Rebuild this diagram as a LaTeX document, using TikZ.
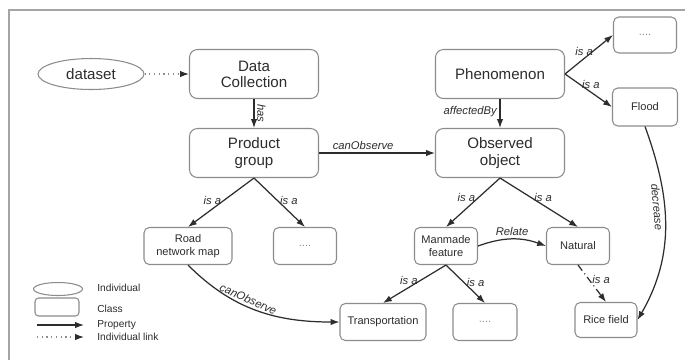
\documentclass[tikz,border=0pt]{standalone}
\usepackage{fontspec}
\setmainfont{Liberation Sans}
\usetikzlibrary{shapes.geometric,arrows.meta}

\definecolor{boxgray}{RGB}{140,140,140}
\definecolor{inkgray}{RGB}{45,45,45}
\definecolor{framegray}{RGB}{165,165,165}

\begin{document}
\begin{tikzpicture}[x=0.02cm, y=0.02cm,
        cls/.style={draw=boxgray, line width=0.6pt, fill=white, rounded corners=4pt,
            align=center, text=inkgray, inner sep=1pt},
        bigcls/.style={cls, rounded corners=4.5pt, minimum width=2.58cm, minimum height=0.98cm,
            font=\fontsize{8.6}{9.2}\selectfont},
        smallcls/.style={cls, rounded corners=3pt, minimum width=1.26cm,
            minimum height=0.74cm, font=\fontsize{6.3}{7.4}\selectfont},
        morecls/.style={smallcls, text=boxgray},
        indiv/.style={ellipse, draw=boxgray, line width=0.6pt, fill=white,
            inner sep=0pt, text=inkgray},
        prop/.style={draw=inkgray, line width=0.7pt, -{Latex[length=5pt,width=3.6pt]}},
        ilink/.style={draw=boxgray, line width=0.7pt, dotted,
            -{Latex[length=5pt,width=3.6pt,color=inkgray]}},
        lbl/.style={font=\fontsize{6.4}{7.5}\selectfont\itshape, text=inkgray, inner sep=1.5pt},
        legtxt/.style={font=\fontsize{5.8}{7}\selectfont, text=inkgray, anchor=west, inner sep=0pt}]
    \useasboundingbox (0,0) rectangle (685,-360);
    \fill[white] (0,0) rectangle (685,-360);
    % frame of the figure
    \draw[framegray, line width=0.6pt] (9,-360) -- (9,-10) -- (685,-10);

    % classes and the individual
    \node[indiv, minimum width=2.12cm, minimum height=0.62cm,
        font=\fontsize{8.6}{9.2}\selectfont] (dataset) at (91,-74) {dataset};
    \node[bigcls] (collection) at (254,-74) {Data\\Collection};
    \node[bigcls] (product) at (254,-153) {Product\\group};
    \node[bigcls] (phenomenon) at (500,-74) {Phenomenon};
    \node[bigcls] (observed) at (500,-153) {Observed\\object};
    \node[morecls, minimum height=0.72cm] (phenother) at (645,-35) {....};
    \node[smallcls, minimum width=1.3cm, minimum height=0.76cm] (flood) at (645,-107) {Flood};
    \node[smallcls, minimum width=1.76cm] (roadmap) at (188,-246) {Road\\network map};
    \node[morecls] (productother) at (305,-246) {....};
    \node[smallcls] (manmade) at (446,-246) {Manmade\\feature};
    \node[smallcls] (natural) at (578,-246) {Natural};
    \node[smallcls, minimum width=1.72cm] (transport) at (383,-322) {Transportation};
    \node[morecls, minimum width=1.28cm] (manmadeother) at (485,-322) {....};
    \node[smallcls, minimum width=1.24cm, minimum height=0.7cm] (ricefield) at (606,-320) {Rice field};

    % properties
    \draw[ilink] (dataset) -- (collection);
    \draw[prop] (collection) -- node[lbl, sloped, above] {has} (product);
    \draw[prop] (phenomenon) -- node[lbl, left, pos=0.45] {affectedBy} (observed);
    \draw[prop] (product) -- node[lbl, above, pos=0.38] {canObserve} (observed);
    \draw[prop] (phenomenon.east) -- node[lbl, above, pos=0.4] {is a} (phenother.west);
    \draw[prop] (phenomenon.east) -- node[lbl, above, pos=0.55] {is a} (flood.west);
    \draw[prop] (product.south) -- node[lbl, left, pos=0.45] {is a} (roadmap.north);
    \draw[prop] (product.south) -- node[lbl, right, pos=0.45] {is a} (productother.north);
    \draw[prop] (observed.south) -- node[lbl, left, pos=0.4] {is a} (manmade.north);
    \draw[prop] (observed.south) -- node[lbl, right, pos=0.4] {is a} (natural.north);
    \draw[prop] (manmade.south) -- node[lbl, left, pos=0.4] {is a} (transport.north);
    \draw[prop] (manmade.south) -- node[lbl, right, pos=0.45] {is a} (manmadeother.north);
    \draw[prop, dash pattern=on 4pt off 2pt on 0.6pt off 2pt]
        (natural.south) -- node[lbl, right, pos=0.4] {is a} (ricefield.north);
    \draw[prop] (manmade.east) to[out=20, in=160] node[lbl, above] {Relate} (natural.west);
    \draw[prop] (roadmap.south) to[out=-45, in=180]
        node[lbl, sloped, above, pos=0.42] {canObserve} (transport.west);
    \draw[prop] (flood.south) to[out=-70, in=60]
        node[lbl, sloped, below, pos=0.4] {decrease} (ricefield.east);

    % legend
    \node[indiv, minimum width=0.98cm, minimum height=0.26cm] (legindiv) at (58,-289) {};
    \node[legtxt] (legindivtxt) at (97,-288) {Individual};
    \node[cls, rounded corners=2pt, minimum width=0.88cm, minimum height=0.36cm] (legclass) at (57,-307) {};
    \node[legtxt] (legclasstxt) at (97,-309) {Class};
    \coordinate (legpropa) at (37,-325);
    \coordinate (legpropb) at (84,-325);
    \draw[prop] (legpropa) -- (legpropb);
    \node[legtxt] (legproptxt) at (97,-325) {Property};
    \coordinate (leglinka) at (37,-337);
    \coordinate (leglinkb) at (84,-337);
    \draw[ilink] (leglinka) -- (leglinkb);
    \node[legtxt] (leglinktxt) at (97,-337) {Individual link};
\end{tikzpicture}
\end{document}
